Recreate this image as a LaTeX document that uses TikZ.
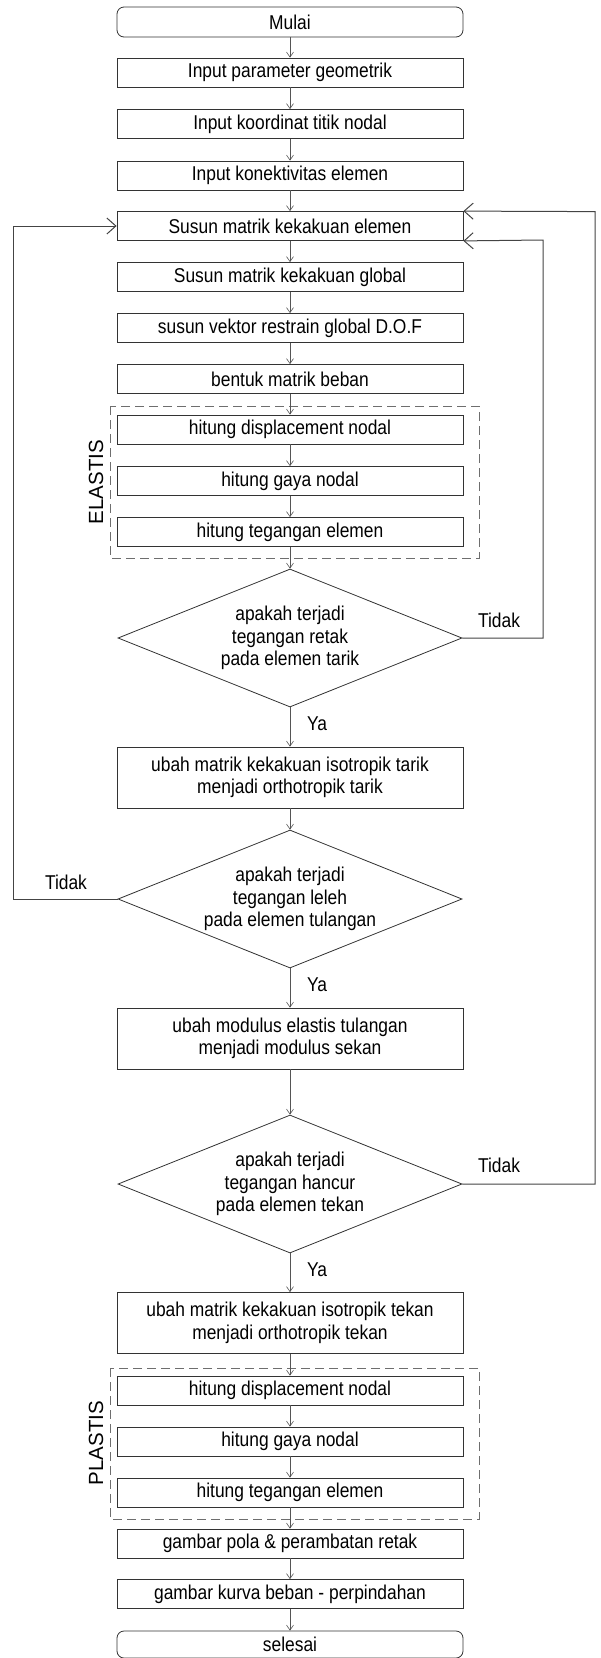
\documentclass[tikz,border=0pt]{standalone}
\usepackage{fontspec}
\setmainfont[FakeStretch=0.87]{Liberation Sans}
\newfontfamily\widefont{Liberation Sans}
\usetikzlibrary{arrows.meta,shapes.geometric}
\definecolor{boxline}{HTML}{333333}
\definecolor{conline}{HTML}{555555}
\definecolor{loopline}{HTML}{444444}
\definecolor{dashline}{HTML}{6E6E6E}
\tikzset{
  stepbox/.style={draw=boxline, line width=0.8pt, rectangle, minimum width=346pt, minimum height=29pt, inner sep=0pt, align=center, font=\fontsize{20}{22.5}\selectfont},
  tallbox/.style={stepbox, minimum height=61pt},
  termbox/.style={stepbox, rounded corners=7pt},
  decbox/.style={draw=boxline, line width=0.8pt, diamond, aspect=2.5, minimum width=344pt, minimum height=138pt, inner sep=0pt},
  dectext/.style={align=center, font=\fontsize{20}{22.5}\selectfont, inner sep=0pt},
  lbl/.style={font=\fontsize{20}{22.5}\selectfont, inner sep=0pt},
  grouplbl/.style={font=\widefont\fontsize{20.5}{24}\selectfont, rotate=90, inner sep=0pt},
  grp/.style={draw=dashline, line width=1pt, dash pattern=on 9pt off 5pt},
  flow/.style={draw=conline, line width=0.6pt, -{Straight Barb[length=5pt,width=7pt]}},
  loop/.style={draw=loopline, line width=1pt, -{Straight Barb[length=9pt,width=16pt]}},
}
\begin{document}
\begin{tikzpicture}[x=1pt,y=-1pt]
\useasboundingbox (0,0) rectangle (601,1658);
% groups
\draw[grp] (110,406) rectangle (479,558);
\draw[grp] (110,1368) rectangle (479,1519);
\node[grouplbl] (gel) at (96,482) {ELASTIS};
\node[grouplbl] (gpl) at (96,1443) {PLASTIS};
% nodes
\node[termbox, minimum height=30pt] (start) at (290,22) {Mulai};
\node[stepbox] (b1) at (290,72.5) {Input parameter geometrik};
\node[stepbox] (b2) at (290,124) {Input koordinat titik nodal};
\node[stepbox] (b3) at (290,175.5) {Input konektivitas elemen};
\node[stepbox] (b4) at (290,226) {Susun matrik kekakuan elemen};
\node[stepbox] (b5) at (290,277) {Susun matrik kekakuan global};
\node[stepbox] (b6) at (290,328) {susun vektor restrain global D.O.F};
\node[stepbox] (b7) at (290,379) {bentuk matrik beban};
\node[stepbox] (b8) at (290,429.5) {hitung displacement nodal};
\node[stepbox] (b9) at (290,481) {hitung gaya nodal};
\node[stepbox] (b10) at (290,532) {hitung tegangan elemen};
\node[decbox] (d1) at (290,638) {};
\node[dectext] at (d1.center) {apakah terjadi\\tegangan retak\\pada elemen tarik};
\node[tallbox] (b11) at (290,777.5) {ubah matrik kekakuan isotropik tarik\\menjadi orthotropik tarik};
\node[decbox] (d2) at (290,899) {};
\node[dectext] at (d2.center) {apakah terjadi\\tegangan leleh\\pada elemen tulangan};
\node[tallbox] (b12) at (290,1038.5) {ubah modulus elastis tulangan\\menjadi modulus sekan};
\node[decbox] (d3) at (290,1184) {};
\node[dectext] at (d3.center) {apakah terjadi\\tegangan hancur\\pada elemen tekan};
\node[tallbox] (b13) at (290,1323) {ubah matrik kekakuan isotropik tekan\\menjadi orthotropik tekan};
\node[stepbox] (b14) at (290,1390.5) {hitung displacement nodal};
\node[stepbox] (b15) at (290,1441.5) {hitung gaya nodal};
\node[stepbox] (b16) at (290,1492.5) {hitung tegangan elemen};
\node[stepbox] (b17) at (290,1543.5) {gambar pola \& perambatan retak};
\node[stepbox] (b18) at (290,1594) {gambar kurva beban - perpindahan};
\node[termbox, minimum height=27pt] (stop) at (290,1644.5) {selesai};
% straight flow
\foreach \a/\b in {start/b1,b1/b2,b2/b3,b3/b4,b4/b5,b5/b6,b6/b7,b7/b8,b8/b9,b9/b10,b10/d1,d1/b11,b11/d2,d2/b12,b12/d3,d3/b13,b13/b14,b14/b15,b15/b16,b16/b17,b17/b18,b18/stop}
  \draw[flow] (\a.south) -- (\b.north);
% yes labels
\node[lbl] (y1) at (317,724) {Ya};
\node[lbl] (y2) at (317,985) {Ya};
\node[lbl] (y3) at (317,1270) {Ya};
% loops
\coordinate (l1) at (13,899);
\coordinate (l2) at (13,226);
\draw[loop] (d2.west) -- (l1) -- (l2) -- (b4.west);
\node[lbl] (t2) at (66,882) {Tidak};
\coordinate (r1) at (543,638);
\coordinate (r2) at (543,240);
\draw[loop] (d1.east) -- (r1) -- (r2) -- (b4.south east);
\node[lbl] (t1) at (499,620) {Tidak};
\coordinate (o1) at (595,1184);
\coordinate (o2) at (595,211.6);
\draw[loop] (d3.east) -- (o1) -- (o2) -- (b4.north east);
\node[lbl] (t3) at (499,1165) {Tidak};
\end{tikzpicture}
\end{document}
